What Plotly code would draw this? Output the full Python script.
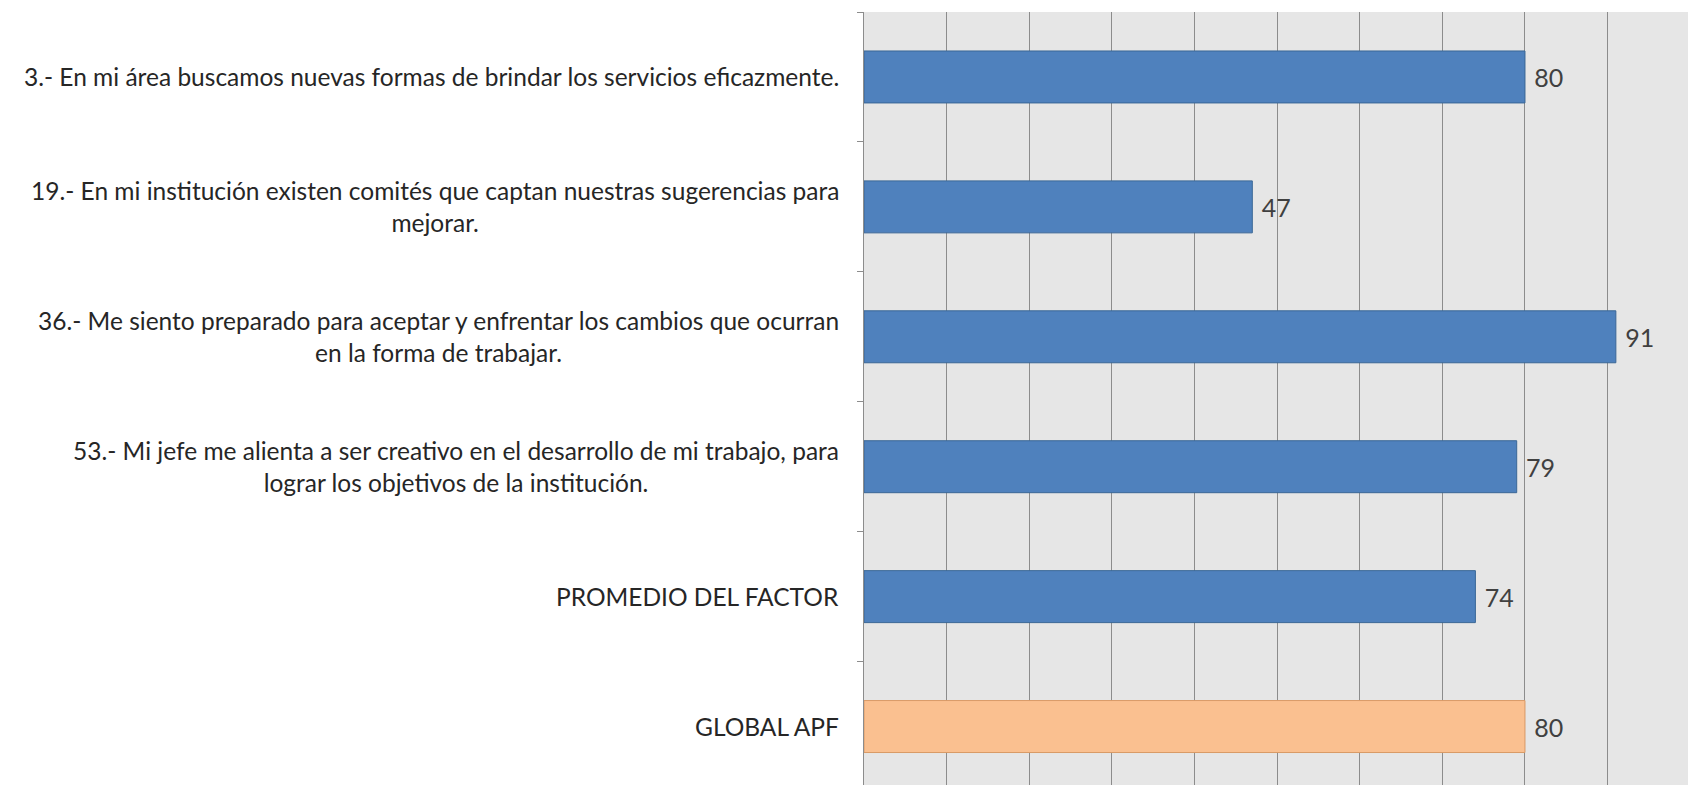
import plotly.graph_objects as go

categories = [
    "3.- En mi área buscamos nuevas formas de brindar los servicios eficazmente.",
    "19.- En mi institución existen comités que captan nuestras sugerencias para<br>mejorar.",
    "36.- Me siento preparado para aceptar y enfrentar los cambios que ocurran<br>en la forma de trabajar.",
    "53.- Mi jefe me alienta a ser creativo en el desarrollo de mi trabajo, para<br>lograr los objetivos de la institución.",
    "PROMEDIO DEL FACTOR",
    "GLOBAL APF",
]
keys = ["q3", "q19", "q36", "q53", "prom", "global"]
values = [80, 47, 91, 79, 74, 80]
fill_colors = ["#4F81BD", "#4F81BD", "#4F81BD", "#4F81BD", "#4F81BD", "#FAC090"]
line_colors = ["#3A6796", "#3A6796", "#3A6796", "#3A6796", "#3A6796", "#D99A66"]

FONT = "Lato, sans-serif"

fig = go.Figure()
fig.add_trace(go.Bar(
    x=values, y=keys, orientation="h",
    marker=dict(color=fill_colors, line=dict(color=line_colors, width=1)),
    width=0.4,
    text=values, texttemplate=" %{x}", textposition="outside",
    textfont=dict(family=FONT, size=25, color="#404040"),
    cliponaxis=False,
))

for k, lab in zip(keys, categories):
    fig.add_annotation(
        x=0, xref="paper", y=k, yref="y",
        text=lab, showarrow=False, xanchor="right", yanchor="middle",
        align="center", xshift=-23,
        font=dict(family=FONT, size=24.5, color="#262626"),
    )

fig.update_layout(
    width=1688, height=777,
    margin=dict(l=856, r=0, t=4, b=0, autoexpand=False),
    plot_bgcolor="#E6E6E6", paper_bgcolor="white",
    showlegend=False,
    bargap=0.6,
)
fig.update_xaxes(
    range=[0, 100.7], dtick=10, showticklabels=False, automargin=False,
    showgrid=True, gridcolor="#8C8C8C", gridwidth=1, zeroline=False,
)
fig.update_yaxes(
    categoryorder="array", categoryarray=keys, automargin=False,
    range=[5.45, -0.5], showticklabels=False,
    ticks="outside", tickson="boundaries", ticklen=6, tickcolor="#8C8C8C",
    showline=True, linecolor="#8C8C8C", linewidth=1, showgrid=False,
)

fig.write_html("out.html")
